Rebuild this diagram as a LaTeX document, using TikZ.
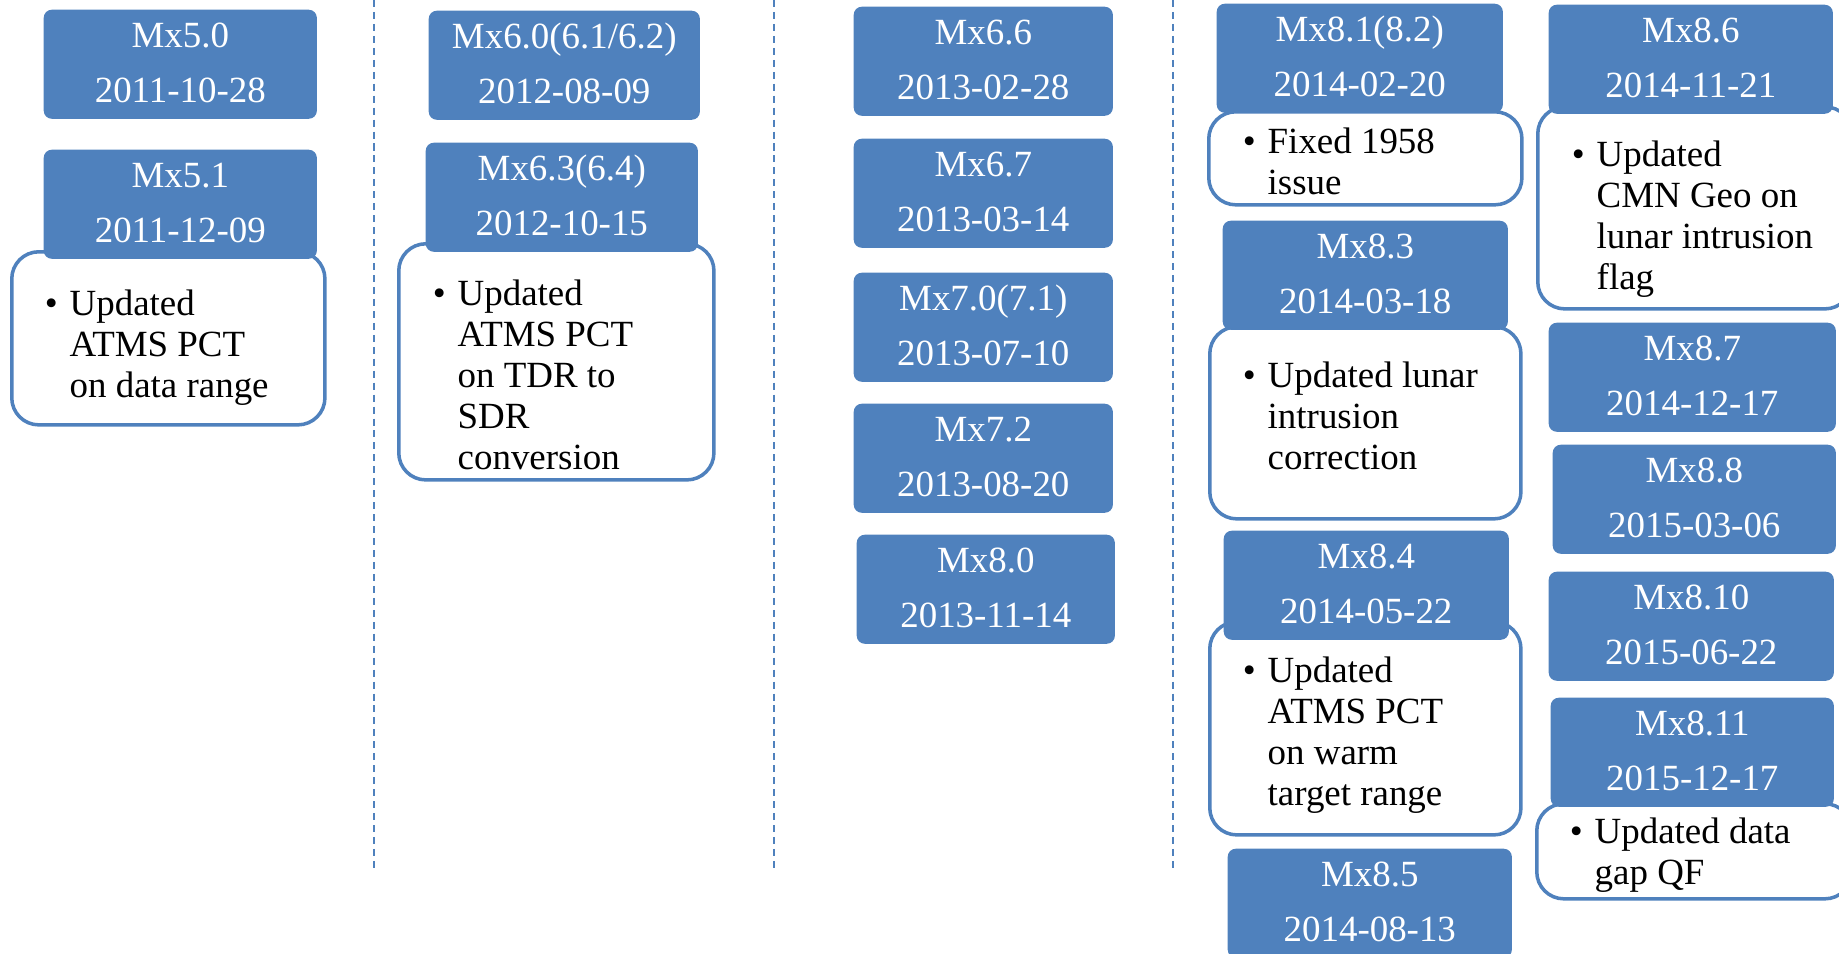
\documentclass[tikz,border=0pt]{standalone}
\usepackage{fontspec}
\setmainfont{Liberation Serif}
\usetikzlibrary{calc}
\definecolor{mxblue}{RGB}{79,129,189}

\tikzset{
  relbox/.style={fill=mxblue, draw=none, rounded corners=2.3pt, minimum height=1.09cm, inner sep=0pt, anchor=north west},
  reltext/.style={text=white, anchor=base, inner sep=0pt, font=\fontsize{10.5}{12}\selectfont},
  notebox/.style={draw=mxblue, line width=1pt, fill=white, rounded corners=7.7pt, inner sep=0pt, anchor=north west},
  notetext/.style={text=black, align=left, anchor=base west, inner sep=0pt, font=\fontsize{10.5}{11.66}\selectfont},
  split/.style={mxblue, line width=0.7pt, dash pattern=on 2pt off 1.4pt}
}
% release box: name, left, top, width, version, date
\newcommand{\relbox}[6]{%
  \node[relbox, minimum width=#4] (#1) at (#2,#3) {};
  \node[reltext] (#1v) at ($(#1.north)+(0,38)$) {#5};
  \node[reltext] (#1d) at ($(#1.north)+(0,93)$) {#6};
}
\newcommand{\bul}{\llap{\textbullet\hspace{0.12cm}}}

\begin{document}
\begin{tikzpicture}[x=0.01cm, y=-0.01cm]
\useasboundingbox (0,0) rectangle (1839,953);

% separators
\foreach \x in {374,774,1173}
  \draw[split] (\x,0) -- (\x,869);

% change notes (text placed at baseline of last line)
\node[notebox, minimum width=3.13cm, minimum height=1.73cm] (n51) at (10,250) {};
\node[notetext] (n51t) at (69,397) {\bul Updated\\ATMS PCT\\on data range};

\node[notebox, minimum width=3.15cm, minimum height=2.36cm] (n63) at (397,242) {};
\node[notetext] (n63t) at (457,469) {\bul Updated\\ATMS PCT\\on TDR to\\SDR\\conversion};

\node[notebox, minimum width=3.13cm, minimum height=0.93cm] (n81) at (1207,110) {};
\node[notetext] (n81t) at (1267,194) {\bul Fixed 1958\\issue};

\node[notebox, minimum width=3.11cm, minimum height=1.92cm] (n83) at (1208,325) {};
\node[notetext] (n83t) at (1267,469) {\bul Updated lunar\\intrusion\\correction};

\node[notebox, minimum width=3.11cm, minimum height=2.13cm] (n84) at (1208,620) {};
\node[notetext] (n84t) at (1267,805) {\bul Updated\\ATMS PCT\\on warm\\target range};

\node[notebox, minimum width=3.14cm, minimum height=2.02cm] (n86) at (1536,105) {};
\node[notetext] (n86t) at (1596,289) {\bul Updated\\CMN Geo on\\lunar intrusion\\flag};

\node[notebox, minimum width=3.15cm, minimum height=0.95cm] (n811) at (1535,802) {};
\node[notetext] (n811t) at (1594,884) {\bul Updated data\\gap QF};

% releases
\relbox{v50}{43}{9}{2.73cm}{Mx5.0}{2011-10-28}
\relbox{v51}{43}{149}{2.73cm}{Mx5.1}{2011-12-09}

\relbox{v60}{428}{10}{2.71cm}{Mx6.0(6.1/6.2)}{2012-08-09}
\relbox{v63}{425}{142}{2.72cm}{Mx6.3(6.4)}{2012-10-15}

\relbox{v66}{853}{6}{2.59cm}{Mx6.6}{2013-02-28}
\relbox{v67}{853}{138}{2.59cm}{Mx6.7}{2013-03-14}
\relbox{v70}{853}{272}{2.59cm}{Mx7.0(7.1)}{2013-07-10}
\relbox{v72}{853}{403}{2.59cm}{Mx7.2}{2013-08-20}
\relbox{v80}{856}{534}{2.58cm}{Mx8.0}{2013-11-14}

\relbox{v81}{1216}{3}{2.86cm}{Mx8.1(8.2)}{2014-02-20}
\relbox{v83}{1222}{220}{2.85cm}{Mx8.3}{2014-03-18}
\relbox{v84}{1223}{530}{2.85cm}{Mx8.4}{2014-05-22}
\relbox{v85}{1227}{848}{2.84cm}{Mx8.5}{2014-08-13}

\relbox{v86}{1548}{4}{2.84cm}{Mx8.6}{2014-11-21}
\relbox{v87}{1548}{322}{2.87cm}{Mx8.7}{2014-12-17}
\relbox{v88}{1552}{444}{2.83cm}{Mx8.8}{2015-03-06}
\relbox{v810}{1548}{571}{2.85cm}{Mx8.10}{2015-06-22}
\relbox{v811}{1550}{697}{2.83cm}{Mx8.11}{2015-12-17}
\end{tikzpicture}
\end{document}
